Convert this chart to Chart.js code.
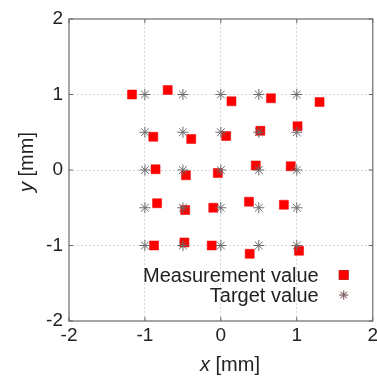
<!DOCTYPE html>
<html>
  <head>
    <title>Chart.js - Measurement vs Target</title>
    <style>
      html, body { margin: 0; padding: 0; background: #fff; overflow: hidden; }
      .chart-container { width: 381px; height: 377px; }
    </style>
  </head>
  <body>
    <div class="chart-container">
      <canvas id="mycanvas"></canvas>
    </div>

    <script src="https://cdn.jsdelivr.net/npm/chart.js@4/dist/chart.umd.min.js"></script>
    <script>
      // measured positions [mm]
      var measX = [-1.17, -0.70, 0.14, 0.66, 1.30,
                   -0.89, -0.39, 0.07, 0.52, 1.01,
                   -0.86, -0.46, -0.04, 0.46, 0.92,
                   -0.84, -0.47, -0.10, 0.37, 0.83,
                   -0.88, -0.48, -0.12, 0.38, 1.03];
      var measY = [1.00, 1.06, 0.91, 0.95, 0.90,
                   0.44, 0.41, 0.45, 0.52, 0.58,
                   0.01, -0.07, -0.04, 0.06, 0.05,
                   -0.44, -0.53, -0.50, -0.42, -0.46,
                   -1.00, -0.96, -1.00, -1.11, -1.07];

      // target grid [mm]
      var targetX = [-1, -0.5, 0, 0.5, 1,
                     -1, -0.5, 0, 0.5, 1,
                     -1, -0.5, 0, 0.5, 1,
                     -1, -0.5, 0, 0.5, 1,
                     -1, -0.5, 0, 0.5, 1];
      var targetY = [1, 1, 1, 1, 1,
                     0.5, 0.5, 0.5, 0.5, 0.5,
                     0, 0, 0, 0, 0,
                     -0.5, -0.5, -0.5, -0.5, -0.5,
                     -1, -1, -1, -1, -1];

      var seriesNames = ["Measurement value", "Target value"];
      var axisMin = -2, axisMax = 2;

      function toPoints(xs, ys) {
        var pts = [];
        for (var i = 0; i < xs.length; i++) pts.push({x: xs[i], y: ys[i]});
        return pts;
      }

      var fontFamily = "'Liberation Sans', Arial, sans-serif";

      // frame, inward tick marks, axis titles and the legend inside the plot
      var decorPlugin = {
        id: 'decor',
        afterDraw: function(chart) {
          var ctx = chart.ctx, a = chart.chartArea;
          var xs = chart.scales.x, ys = chart.scales.y;
          ctx.save();
          ctx.strokeStyle = '#888';
          ctx.lineWidth = 1.5;
          ctx.strokeRect(a.left, a.top, a.right - a.left, a.bottom - a.top);

          ctx.lineWidth = 1;
          ctx.strokeStyle = '#666';
          ctx.beginPath();
          xs.ticks.forEach(function(t) {
            var px = xs.getPixelForValue(t.value);
            ctx.moveTo(px, a.top); ctx.lineTo(px, a.top + 4);
            ctx.moveTo(px, a.bottom); ctx.lineTo(px, a.bottom - 4);
          });
          ys.ticks.forEach(function(t) {
            var py = ys.getPixelForValue(t.value);
            ctx.moveTo(a.left, py); ctx.lineTo(a.left + 4, py);
            ctx.moveTo(a.right, py); ctx.lineTo(a.right - 4, py);
          });
          ctx.stroke();

          // axis titles: italic variable + normal unit
          ctx.fillStyle = '#222';
          ctx.textBaseline = 'middle';
          function drawTitle(v, unit, cx, cy, rot) {
            ctx.save();
            ctx.translate(cx, cy);
            ctx.rotate(rot);
            ctx.font = 'italic 20px ' + fontFamily;
            var w1 = ctx.measureText(v).width;
            ctx.font = '20px ' + fontFamily;
            var w2 = ctx.measureText(unit).width;
            var x0 = -(w1 + w2) / 2;
            ctx.textAlign = 'left';
            ctx.font = 'italic 20px ' + fontFamily;
            ctx.fillText(v, x0, 0);
            ctx.font = '20px ' + fontFamily;
            ctx.fillText(unit, x0 + w1, 0);
            ctx.restore();
          }
          drawTitle('x', ' [mm]', 230, 365, 0);
          drawTitle('y', ' [mm]', 27, 162, -Math.PI / 2);

          // legend
          var ds = chart.data.datasets;
          var lx = a.right - 29, ly = a.bottom - 46;
          var rowY = [0, 20];
          ctx.font = '20px ' + fontFamily;
          ctx.textAlign = 'right';
          [1, 0].forEach(function(di, row) {
            var d = ds[di];
            var y = ly + rowY[row];
            ctx.fillStyle = '#222';
            ctx.fillText(d.label, lx - 25, y + 1);
            Chart.helpers.drawPoint(ctx, {
              pointStyle: d.pointStyle,
              radius: d.pointStyle === 'rect' ? 6.4 : 4.5,
              borderWidth: d.borderWidth,
              rotation: 0
            }, lx, y);
            ctx.fillStyle = d.backgroundColor;
            ctx.strokeStyle = d.borderColor;
            ctx.lineWidth = d.borderWidth;
            if (d.pointStyle === 'rect') ctx.fill();
            ctx.stroke();
          });
          ctx.restore();
        }
      };

      var ctx = document.getElementById('mycanvas');

      var chartdata = {
        datasets: [
          {
            label: seriesNames[1],
            data: toPoints(targetX, targetY),
            pointStyle: 'star',
            pointRadius: 5.5,
            borderWidth: 1,
            borderColor: '#6a6a6a',
            backgroundColor: '#6a6a6a',
            order: 0
          },
          {
            label: seriesNames[0],
            data: toPoints(measX, measY),
            pointStyle: 'rect',
            pointRadius: 6.4,
            borderWidth: 0.5,
            borderColor: '#ee0000',
            backgroundColor: '#ff0000',
            order: 1
          }
        ]
      };

      var gridColor = function(c) {
        var v = c.tick && c.tick.value;
        return (v === axisMin || v === axisMax) ? 'rgba(0,0,0,0)' : '#d8d8d8';
      };

      new Chart(ctx, {
        type: 'scatter',
        data: chartdata,
        plugins: [decorPlugin],
        options: {
          responsive: true,
          maintainAspectRatio: false,
          animation: false,
          layout: { padding: { top: 19, left: 0, right: 0, bottom: 0 } },
          plugins: {
            legend: { display: false },
            tooltip: { enabled: false }
          },
          scales: {
            x: {
              type: 'linear',
              min: axisMin, max: axisMax,
              ticks: { stepSize: 1, padding: 3, color: '#222', font: { size: 19, family: fontFamily } },
              grid: { color: gridColor, drawTicks: false, lineWidth: 1 },
              border: { display: false, dash: [2, 2] },
              afterFit: function(s) { s.height = 56; }
            },
            y: {
              type: 'linear',
              min: axisMin, max: axisMax,
              ticks: { stepSize: 1, padding: 6, color: '#222', font: { size: 19, family: fontFamily } },
              grid: { color: gridColor, drawTicks: false, lineWidth: 1 },
              border: { display: false, dash: [2, 2] },
              afterFit: function(s) { s.width = 69; }
            }
          }
        }
      });
    </script>
  </body>
</html>
